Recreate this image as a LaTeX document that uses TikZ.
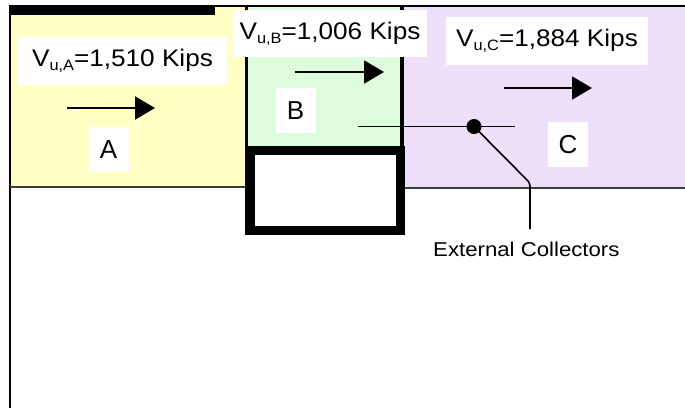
\documentclass[tikz,border=0pt]{standalone}
\usepackage{fontspec}
\setmainfont{Liberation Sans}
\usetikzlibrary{arrows.meta}
\definecolor{zoneA}{RGB}{255,255,198}
\definecolor{zoneB}{RGB}{221,251,221}
\definecolor{zoneC}{RGB}{238,223,251}
\definecolor{edgegray}{RGB}{60,60,60}
\newcommand\lsub[1]{\raisebox{-4pt}{\fontsize{15}{15}\selectfont #1}}
\newcommand\vlabel[2]{\scalebox{1.09}[1]{V\lsub{#1}=#2 Kips}}
\tikzset{
  vbox/.style={fill=white, inner sep=0pt, minimum height=48pt, font=\fontsize{24}{24}\selectfont},
  letterbox/.style={fill=white, inner sep=0pt, minimum width=40pt, minimum height=45pt, font=\fontsize{26}{26}\selectfont},
  force/.style={line width=2pt, -{Triangle[length=20pt,width=23pt]}},
  thinline/.style={line width=1.6pt},
}
\begin{document}
\begin{tikzpicture}[x=1pt,y=-1pt]
\useasboundingbox (0,0) rectangle (685,408);
\fill[white] (0,0) rectangle (685,408);
% zones
\fill[zoneA] (10,6) rectangle (246,187);
\fill[zoneB] (246,6) rectangle (402,150);
\fill[zoneC] (402,6) rectangle (685,188);
% outline
\draw[line width=2pt] (10,6) -- (685,6);
\fill[black] (10,5) rectangle (215,15);
\draw[line width=2pt] (10,5) -- (10,408);
\draw[edgegray, line width=1.6pt] (10,187) -- (246,187);
\draw[edgegray, line width=1.8pt] (402,188) -- (685,188);
\draw[line width=3pt] (246.5,6) -- (246.5,150);
\draw[line width=4pt] (402,6) -- (402,150);
\draw[line width=9.5pt] (250,150.5) rectangle (400.5,230.5);
% collectors
\node[circle, fill=black, inner sep=0pt, minimum size=15pt] (dot) at (474,126.5) {};
\coordinate (colL) at (358,126.5);
\coordinate (colR) at (515,126.5);
\coordinate (bend) at (530,183);
\coordinate (lineend) at (530,229);
\draw[thinline] (colL) -- (colR);
\draw[thinline, rounded corners=3pt] (dot.center) -- (bend) -- (lineend);
\node[anchor=base west, inner sep=0pt, font=\fontsize{20}{20}\selectfont] (ext) at (433,256) {\scalebox{1.11}[1]{External Collectors}};
% shear labels
\node[vbox, minimum width=209pt] (vA) at (122.5,61) {\vlabel{u,A}{1,510}};
\node[vbox, minimum width=194pt, minimum height=47pt] (vB) at (330,33.5) {\vlabel{u,B}{1,006}};
\node[vbox, minimum width=202pt] (vC) at (547,41) {\vlabel{u,C}{1,884}};
% zone letters
\node[letterbox] (lA) at (108.5,149.5) {A};
\node[letterbox] (lB) at (295.5,110.5) {B};
\node[letterbox] (lC) at (568,144.5) {C};
% arrows
\coordinate (aA1) at (67,108); \coordinate (aA2) at (155,108);
\coordinate (aB1) at (295,72); \coordinate (aB2) at (384,72);
\coordinate (aC1) at (504,88); \coordinate (aC2) at (592,88);
\draw[force] (aA1) -- (aA2);
\draw[force] (aB1) -- (aB2);
\draw[force] (aC1) -- (aC2);
\end{tikzpicture}
\end{document}
